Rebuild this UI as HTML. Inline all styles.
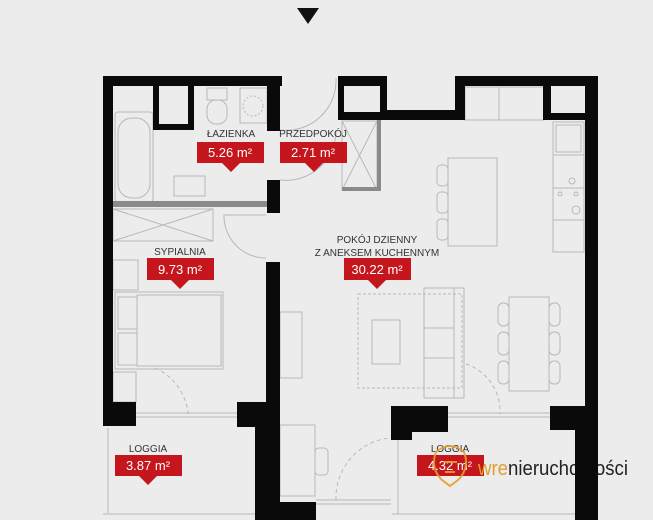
<!DOCTYPE html>
<html><head><meta charset="utf-8"><style>
html,body{margin:0;padding:0;background:#ececec;}
svg{display:block}
text{font-family:"Liberation Sans",sans-serif;}
</style></head><body>
<svg width="653" height="520" viewBox="0 0 653 520" xmlns="http://www.w3.org/2000/svg">
<rect width="653" height="520" fill="#ececec"/>
<polygon points="297,8 319,8 308,24" fill="#111"/>

<g fill="none" stroke="#b8b8b8" stroke-width="1">
 <rect x="115" y="112" width="38" height="90" rx="3"/>
 <rect x="118" y="118" width="32" height="80" rx="14"/>
 <rect x="207" y="88" width="20" height="12"/>
 <rect x="207" y="100" width="20" height="24" rx="9"/>
 <rect x="240" y="88" width="27" height="35"/>
 <circle cx="253" cy="106" r="10" stroke-dasharray="2,2"/>
 <rect x="174" y="176" width="31" height="20"/>
 <rect x="113" y="209" width="100" height="32"/>
 <line x1="113" y1="209" x2="213" y2="241"/><line x1="113" y1="241" x2="213" y2="209"/>
 <path d="M266 215 L224 215 A42 42 0 0 0 266 258"/>
 <path d="M280 130 A50 50 0 0 0 336 78"/>
 <path d="M280 180 A50 50 0 0 0 336 130"/>
 <rect x="342" y="121" width="35" height="69"/>
 <line x1="342" y1="121" x2="377" y2="190"/><line x1="342" y1="190" x2="377" y2="121"/>
 <rect x="465" y="87" width="34" height="33"/><rect x="499" y="87" width="45" height="33"/>
 <rect x="553" y="122" width="31" height="33"/><rect x="556" y="125" width="25" height="27"/>
 <rect x="553" y="155" width="31" height="33"/><rect x="553" y="188" width="31" height="32"/>
 <circle cx="572" cy="181" r="3"/><circle cx="560" cy="194" r="2"/><circle cx="576" cy="194" r="2"/><circle cx="576" cy="210" r="4"/>
 <rect x="553" y="220" width="31" height="32"/>
 <rect x="448" y="158" width="49" height="88"/>
 <rect x="437" y="165" width="11" height="21" rx="4"/><rect x="437" y="192" width="11" height="21" rx="4"/><rect x="437" y="219" width="11" height="21" rx="4"/>
 <rect x="358" y="294" width="104" height="94" stroke-dasharray="3,2"/>
 <rect x="372" y="320" width="28" height="44"/>
 <rect x="424" y="288" width="40" height="110"/>
 <line x1="454" y1="288" x2="454" y2="398"/>
 <line x1="424" y1="328" x2="454" y2="328"/><line x1="424" y1="358" x2="454" y2="358"/>
 <rect x="509" y="297" width="40" height="94"/>
 <rect x="498" y="303" width="11" height="23" rx="5"/><rect x="498" y="332" width="11" height="23" rx="5"/><rect x="498" y="361" width="11" height="23" rx="5"/>
 <rect x="549" y="303" width="11" height="23" rx="5"/><rect x="549" y="332" width="11" height="23" rx="5"/><rect x="549" y="361" width="11" height="23" rx="5"/>
 <rect x="280" y="312" width="22" height="66"/>
 <path d="M466 364 A50 50 0 0 1 500 414" stroke-dasharray="4,3"/>
 <rect x="115" y="292" width="108" height="77"/>
 <rect x="137" y="295" width="84" height="71"/>
 <rect x="118" y="297" width="19" height="32"/><rect x="118" y="333" width="19" height="32"/>
 <rect x="113" y="372" width="23" height="30"/>
 <rect x="113" y="260" width="25" height="30"/>
 <path d="M155 368 A55 55 0 0 1 188 414" stroke-dasharray="4,3"/>
 <rect x="280" y="425" width="35" height="71"/>
 <rect x="315" y="448" width="13" height="27" rx="4"/>
 <path d="M336 500 A60 60 0 0 1 390 438" stroke-dasharray="4,3"/>
 <line x1="108" y1="428" x2="108" y2="513"/><line x1="103" y1="514" x2="255" y2="514"/>
 <line x1="398" y1="438" x2="398" y2="514"/><line x1="392" y1="514" x2="576" y2="514"/>
 <line x1="135" y1="413" x2="237" y2="413"/><line x1="135" y1="417" x2="237" y2="417"/>
 <line x1="448" y1="413" x2="550" y2="413"/><line x1="448" y1="417" x2="550" y2="417"/>
 <line x1="316" y1="500" x2="391" y2="500"/><line x1="316" y1="504" x2="391" y2="504"/>
</g>
<rect x="113" y="201" width="155" height="6" fill="#8a8a8a"/>
<rect x="377" y="119" width="4" height="71" fill="#8a8a8a"/>
<rect x="342" y="187" width="39" height="4" fill="#8a8a8a"/>

<g fill="#0a0a0a">
 <rect x="103" y="76" width="179" height="10"/>
 <rect x="103" y="76" width="10" height="350"/>
 <rect x="103" y="402" width="33" height="24"/>
 <path d="M153 76h41v54h-41z M159 86v38h29v-38z" fill-rule="evenodd"/>
 <rect x="267" y="76" width="13" height="55"/>
 <rect x="267" y="180" width="13" height="33"/>
 <rect x="266" y="262" width="14" height="250"/>
 <rect x="237" y="402" width="40" height="25"/>
 <rect x="255" y="426" width="25" height="92"/>
 <rect x="255" y="502" width="61" height="18"/>
 <path d="M338 76h49v44h-49z M344 86v26h36v-26z" fill-rule="evenodd"/>
 <rect x="380" y="110" width="85" height="10"/>
 <rect x="455" y="76" width="143" height="10"/>
 <rect x="455" y="76" width="10" height="44"/>
 <rect x="543" y="76" width="8" height="44"/>
 <rect x="543" y="113" width="42" height="7"/>
 <rect x="585" y="76" width="13" height="444"/>
 <rect x="550" y="406" width="35" height="24"/>
 <rect x="391" y="406" width="57" height="26"/>
 <rect x="391" y="430" width="21" height="10"/>
</g>

<g font-size="10" fill="#333" text-anchor="middle">
 <text x="231" y="137">ŁAZIENKA</text>
 <text x="313" y="137">PRZEDPOKÓJ</text>
 <text x="180" y="255">SYPIALNIA</text>
 <text x="377" y="243">POKÓJ DZIENNY</text>
 <text x="377" y="256">Z ANEKSEM KUCHENNYM</text>
 <text x="148" y="452">LOGGIA</text>
 <text x="450" y="452">LOGGIA</text>
</g>
<g fill="#c4161c">
 <rect x="197" y="142" width="67" height="21"/><polygon points="221,162 241,162 231,172"/>
 <rect x="280" y="142" width="67" height="21"/><polygon points="304,162 324,162 314,172"/>
 <rect x="147" y="258" width="67" height="22"/><polygon points="170,279 190,279 180,289"/>
 <rect x="344" y="258" width="67" height="22"/><polygon points="367,279 387,279 377,289"/>
 <rect x="115" y="455" width="67" height="21"/><polygon points="138,475 158,475 148,485"/>
 <rect x="417" y="455" width="67" height="21"/>
</g>
<g font-size="13" fill="#fff" text-anchor="middle">
 <text x="230" y="157">5.26 m²</text>
 <text x="313" y="157">2.71 m²</text>
 <text x="180" y="274">9.73 m²</text>
 <text x="377" y="274">30.22 m²</text>
 <text x="148" y="470">3.87 m²</text>
 <text x="450" y="470">4.32 m²</text>
</g>
<g fill="none" stroke="#e0a030" stroke-width="2" opacity="0.9">
 <path d="M436 452 Q450 440 464 452 Q470 468 458 480 L450 486 L442 480 Q430 468 436 452z"/>
 <path d="M443 462 h14 M445 472 h10"/>
</g>
<text x="478" y="475" font-size="20" fill="#e0a030" textLength="150" lengthAdjust="spacingAndGlyphs">wre<tspan fill="#222">nieruchomości</tspan></text>
<rect x="575" y="420" width="23" height="100" fill="#0a0a0a"/>
</svg>
</body></html>
